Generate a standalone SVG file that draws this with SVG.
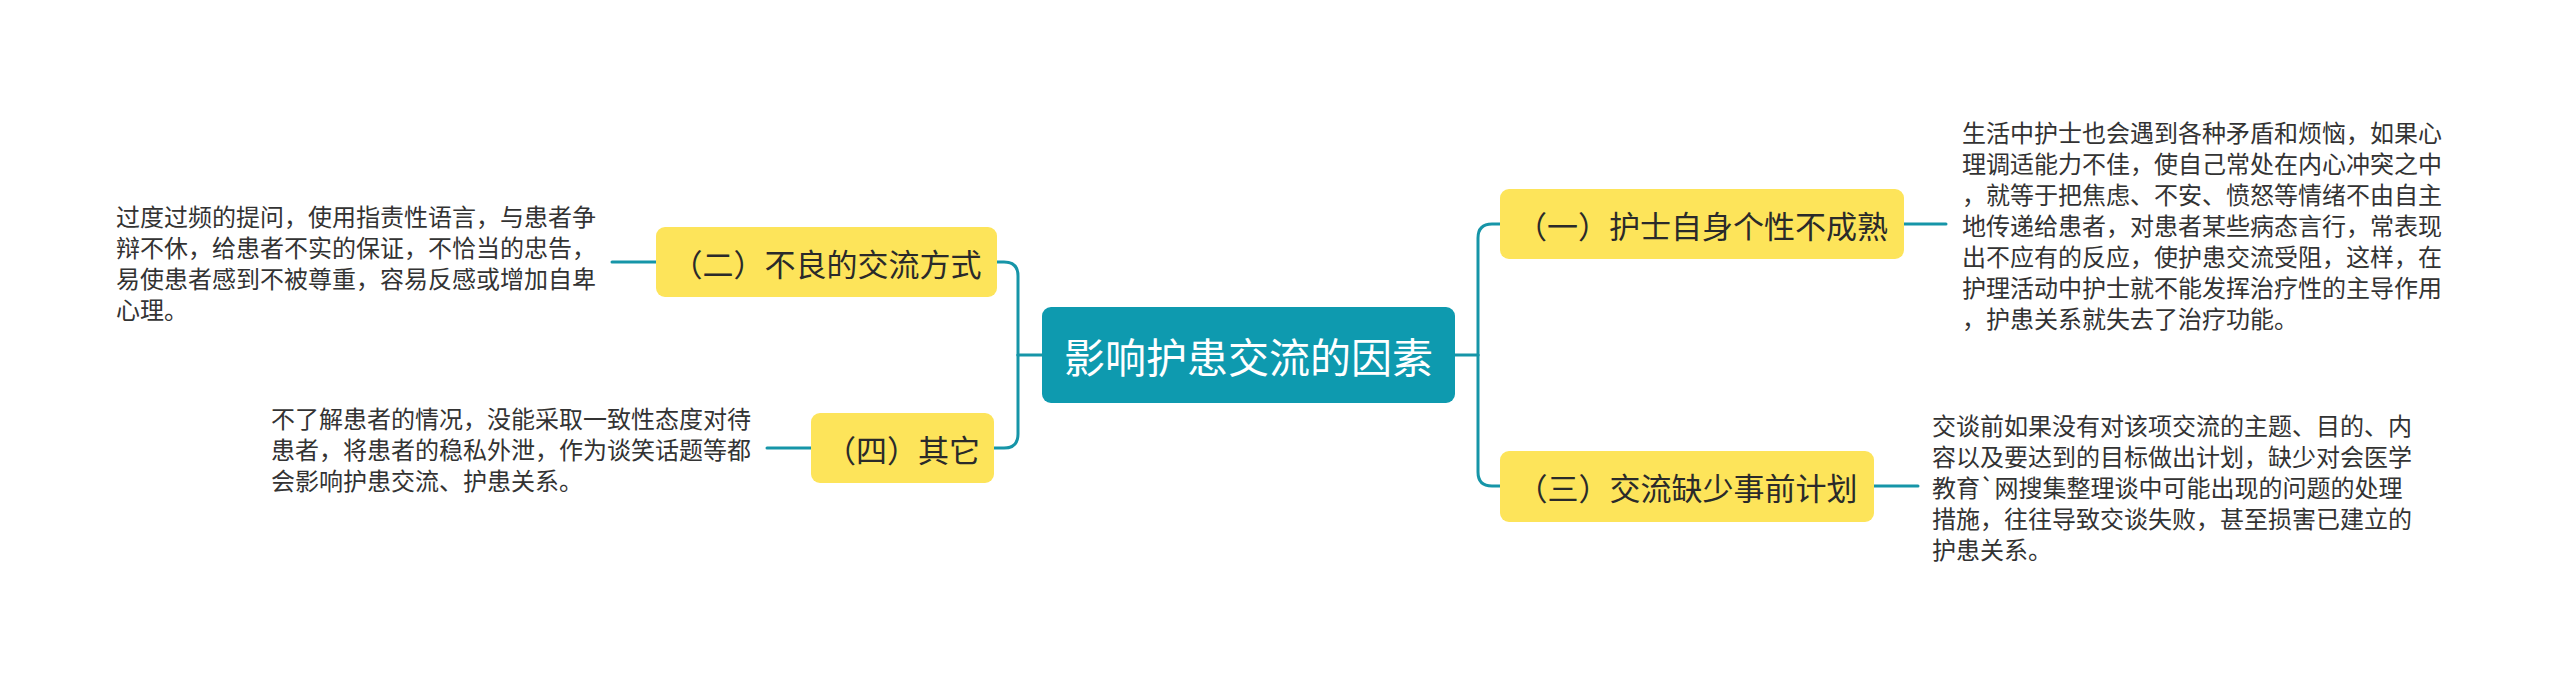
<svg xmlns="http://www.w3.org/2000/svg" width="2560" height="680" viewBox="0 0 2560 680">
<style>
text{font-family:"Noto Sans CJK SC","Noto Sans",sans-serif;dominant-baseline:central}
.root rect{fill:#0E9AAF}
.root text{fill:#ffffff;font-size:41px;text-anchor:middle}
.sub rect{fill:#FDE45A}
.sub text{fill:#2a2a2a;font-size:31px;text-anchor:middle}
.desc text{fill:#333333;font-size:24px}
.conn path{fill:none;stroke:#1695A8;stroke-width:3;stroke-linecap:round}
</style>
<rect width="2560" height="680" fill="#ffffff"/>
<g class="conn" id="connectors">
<path d="M1455 355H1478"/>
<path d="M1478 355V238Q1478 224 1492 224H1500"/>
<path d="M1478 355V472Q1478 486 1492 486H1500"/>
<path d="M1042 355H1018"/>
<path d="M1018 355V276Q1018 262 1004 262H997"/>
<path d="M1018 355V434Q1018 448 1004 448H994"/>
<path d="M1904 224H1946"/>
<path d="M1874 486H1918"/>
<path d="M656 262H612"/>
<path d="M811 448H767"/>
</g>
<g id="root" class="root">
<rect x="1042" y="307" width="413" height="96" rx="9"/>
<text x="1248.5" y="355">影响护患交流的因素</text>
</g>
<g id="n1" class="sub">
<rect x="1500" y="189" width="404" height="70" rx="9"/>
<text x="1702" y="224">（一）护士自身个性不成熟</text>
</g>
<g id="n3" class="sub">
<rect x="1500" y="451" width="374" height="71" rx="9"/>
<text x="1687" y="486">（三）交流缺少事前计划</text>
</g>
<g id="n2" class="sub">
<rect x="656" y="227" width="341" height="70" rx="9"/>
<text x="826.5" y="262">（二）不良的交流方式</text>
</g>
<g id="n4" class="sub">
<rect x="811" y="413" width="183" height="70" rx="9"/>
<text x="902.5" y="448">（四）其它</text>
</g>
<g id="d1" class="desc">
<text x="1962" y="131">生活中护士也会遇到各种矛盾和烦恼，如果心</text>
<text x="1962" y="162">理调适能力不佳，使自己常处在内心冲突之中</text>
<text x="1962" y="193">，就等于把焦虑、不安、愤怒等情绪不由自主</text>
<text x="1962" y="224">地传递给患者，对患者某些病态言行，常表现</text>
<text x="1962" y="255">出不应有的反应，使护患交流受阻，这样，在</text>
<text x="1962" y="286">护理活动中护士就不能发挥治疗性的主导作用</text>
<text x="1962" y="317">，护患关系就失去了治疗功能。</text>
</g>
<g id="d3" class="desc">
<text x="1932" y="424">交谈前如果没有对该项交流的主题、目的、内</text>
<text x="1932" y="455">容以及要达到的目标做出计划，缺少对会医学</text>
<text x="1932" y="486">教育`网搜集整理谈中可能出现的问题的处理</text>
<text x="1932" y="517">措施，往往导致交谈失败，甚至损害已建立的</text>
<text x="1932" y="548">护患关系。</text>
</g>
<g id="d2" class="desc">
<text x="116" y="215.5">过度过频的提问，使用指责性语言，与患者争</text>
<text x="116" y="246.5">辩不休，给患者不实的保证，不恰当的忠告，</text>
<text x="116" y="277.5">易使患者感到不被尊重，容易反感或增加自卑</text>
<text x="116" y="308.5">心理。</text>
</g>
<g id="d4" class="desc">
<text x="271" y="417">不了解患者的情况，没能采取一致性态度对待</text>
<text x="271" y="448">患者，将患者的稳私外泄，作为谈笑话题等都</text>
<text x="271" y="479">会影响护患交流、护患关系。</text>
</g>
</svg>
